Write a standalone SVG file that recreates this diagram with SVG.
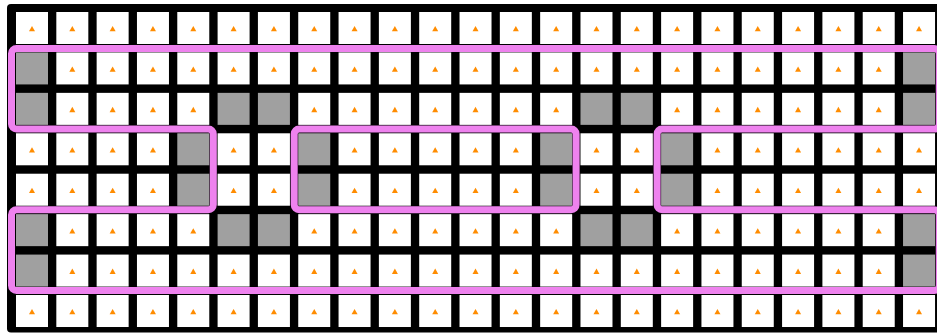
<svg xmlns="http://www.w3.org/2000/svg" width="937" height="333" viewBox="0 0 937 333">
<style>
.region{fill:none;stroke:#ee82ee;stroke-width:7;stroke-linejoin:round;}
</style>
<defs>
<g id="w"><rect width="32" height="32" fill="#ffffff"/><path d="M13 19.3 L16 14 L19 19.3 Z" fill="#ff8c00"/></g>
<g id="g"><rect width="32" height="32" fill="#a0a0a0"/></g>
</defs>
<rect id="board" x="7" y="4" width="945" height="328.5" rx="4" fill="#000000"/>
<g id="cells">
<g id="r0"><use href="#w" x="16" y="12"/><use href="#w" x="56.32" y="12"/><use href="#w" x="96.64" y="12"/><use href="#w" x="136.96" y="12"/><use href="#w" x="177.28" y="12"/><use href="#w" x="217.6" y="12"/><use href="#w" x="257.92" y="12"/><use href="#w" x="298.24" y="12"/><use href="#w" x="338.56" y="12"/><use href="#w" x="378.88" y="12"/><use href="#w" x="419.2" y="12"/><use href="#w" x="459.52" y="12"/><use href="#w" x="499.84" y="12"/><use href="#w" x="540.16" y="12"/><use href="#w" x="580.48" y="12"/><use href="#w" x="620.8" y="12"/><use href="#w" x="661.12" y="12"/><use href="#w" x="701.44" y="12"/><use href="#w" x="741.76" y="12"/><use href="#w" x="782.08" y="12"/><use href="#w" x="822.4" y="12"/><use href="#w" x="862.72" y="12"/><use href="#w" x="903.04" y="12"/></g>
<g id="r1"><use href="#g" x="16" y="52.43"/><use href="#w" x="56.32" y="52.43"/><use href="#w" x="96.64" y="52.43"/><use href="#w" x="136.96" y="52.43"/><use href="#w" x="177.28" y="52.43"/><use href="#w" x="217.6" y="52.43"/><use href="#w" x="257.92" y="52.43"/><use href="#w" x="298.24" y="52.43"/><use href="#w" x="338.56" y="52.43"/><use href="#w" x="378.88" y="52.43"/><use href="#w" x="419.2" y="52.43"/><use href="#w" x="459.52" y="52.43"/><use href="#w" x="499.84" y="52.43"/><use href="#w" x="540.16" y="52.43"/><use href="#w" x="580.48" y="52.43"/><use href="#w" x="620.8" y="52.43"/><use href="#w" x="661.12" y="52.43"/><use href="#w" x="701.44" y="52.43"/><use href="#w" x="741.76" y="52.43"/><use href="#w" x="782.08" y="52.43"/><use href="#w" x="822.4" y="52.43"/><use href="#w" x="862.72" y="52.43"/><use href="#g" x="903.04" y="52.43"/></g>
<g id="r2"><use href="#g" x="16" y="92.86"/><use href="#w" x="56.32" y="92.86"/><use href="#w" x="96.64" y="92.86"/><use href="#w" x="136.96" y="92.86"/><use href="#w" x="177.28" y="92.86"/><use href="#g" x="217.6" y="92.86"/><use href="#g" x="257.92" y="92.86"/><use href="#w" x="298.24" y="92.86"/><use href="#w" x="338.56" y="92.86"/><use href="#w" x="378.88" y="92.86"/><use href="#w" x="419.2" y="92.86"/><use href="#w" x="459.52" y="92.86"/><use href="#w" x="499.84" y="92.86"/><use href="#w" x="540.16" y="92.86"/><use href="#g" x="580.48" y="92.86"/><use href="#g" x="620.8" y="92.86"/><use href="#w" x="661.12" y="92.86"/><use href="#w" x="701.44" y="92.86"/><use href="#w" x="741.76" y="92.86"/><use href="#w" x="782.08" y="92.86"/><use href="#w" x="822.4" y="92.86"/><use href="#w" x="862.72" y="92.86"/><use href="#g" x="903.04" y="92.86"/></g>
<g id="r3"><use href="#w" x="16" y="133.29"/><use href="#w" x="56.32" y="133.29"/><use href="#w" x="96.64" y="133.29"/><use href="#w" x="136.96" y="133.29"/><use href="#g" x="177.28" y="133.29"/><use href="#w" x="217.6" y="133.29"/><use href="#w" x="257.92" y="133.29"/><use href="#g" x="298.24" y="133.29"/><use href="#w" x="338.56" y="133.29"/><use href="#w" x="378.88" y="133.29"/><use href="#w" x="419.2" y="133.29"/><use href="#w" x="459.52" y="133.29"/><use href="#w" x="499.84" y="133.29"/><use href="#g" x="540.16" y="133.29"/><use href="#w" x="580.48" y="133.29"/><use href="#w" x="620.8" y="133.29"/><use href="#g" x="661.12" y="133.29"/><use href="#w" x="701.44" y="133.29"/><use href="#w" x="741.76" y="133.29"/><use href="#w" x="782.08" y="133.29"/><use href="#w" x="822.4" y="133.29"/><use href="#w" x="862.72" y="133.29"/><use href="#w" x="903.04" y="133.29"/></g>
<g id="r4"><use href="#w" x="16" y="173.72"/><use href="#w" x="56.32" y="173.72"/><use href="#w" x="96.64" y="173.72"/><use href="#w" x="136.96" y="173.72"/><use href="#g" x="177.28" y="173.72"/><use href="#w" x="217.6" y="173.72"/><use href="#w" x="257.92" y="173.72"/><use href="#g" x="298.24" y="173.72"/><use href="#w" x="338.56" y="173.72"/><use href="#w" x="378.88" y="173.72"/><use href="#w" x="419.2" y="173.72"/><use href="#w" x="459.52" y="173.72"/><use href="#w" x="499.84" y="173.72"/><use href="#g" x="540.16" y="173.72"/><use href="#w" x="580.48" y="173.72"/><use href="#w" x="620.8" y="173.72"/><use href="#g" x="661.12" y="173.72"/><use href="#w" x="701.44" y="173.72"/><use href="#w" x="741.76" y="173.72"/><use href="#w" x="782.08" y="173.72"/><use href="#w" x="822.4" y="173.72"/><use href="#w" x="862.72" y="173.72"/><use href="#w" x="903.04" y="173.72"/></g>
<g id="r5"><use href="#g" x="16" y="214.15"/><use href="#w" x="56.32" y="214.15"/><use href="#w" x="96.64" y="214.15"/><use href="#w" x="136.96" y="214.15"/><use href="#w" x="177.28" y="214.15"/><use href="#g" x="217.6" y="214.15"/><use href="#g" x="257.92" y="214.15"/><use href="#w" x="298.24" y="214.15"/><use href="#w" x="338.56" y="214.15"/><use href="#w" x="378.88" y="214.15"/><use href="#w" x="419.2" y="214.15"/><use href="#w" x="459.52" y="214.15"/><use href="#w" x="499.84" y="214.15"/><use href="#w" x="540.16" y="214.15"/><use href="#g" x="580.48" y="214.15"/><use href="#g" x="620.8" y="214.15"/><use href="#w" x="661.12" y="214.15"/><use href="#w" x="701.44" y="214.15"/><use href="#w" x="741.76" y="214.15"/><use href="#w" x="782.08" y="214.15"/><use href="#w" x="822.4" y="214.15"/><use href="#w" x="862.72" y="214.15"/><use href="#g" x="903.04" y="214.15"/></g>
<g id="r6"><use href="#g" x="16" y="254.58"/><use href="#w" x="56.32" y="254.58"/><use href="#w" x="96.64" y="254.58"/><use href="#w" x="136.96" y="254.58"/><use href="#w" x="177.28" y="254.58"/><use href="#w" x="217.6" y="254.58"/><use href="#w" x="257.92" y="254.58"/><use href="#w" x="298.24" y="254.58"/><use href="#w" x="338.56" y="254.58"/><use href="#w" x="378.88" y="254.58"/><use href="#w" x="419.2" y="254.58"/><use href="#w" x="459.52" y="254.58"/><use href="#w" x="499.84" y="254.58"/><use href="#w" x="540.16" y="254.58"/><use href="#w" x="580.48" y="254.58"/><use href="#w" x="620.8" y="254.58"/><use href="#w" x="661.12" y="254.58"/><use href="#w" x="701.44" y="254.58"/><use href="#w" x="741.76" y="254.58"/><use href="#w" x="782.08" y="254.58"/><use href="#w" x="822.4" y="254.58"/><use href="#w" x="862.72" y="254.58"/><use href="#g" x="903.04" y="254.58"/></g>
<g id="r7"><use href="#w" x="16" y="295.01"/><use href="#w" x="56.32" y="295.01"/><use href="#w" x="96.64" y="295.01"/><use href="#w" x="136.96" y="295.01"/><use href="#w" x="177.28" y="295.01"/><use href="#w" x="217.6" y="295.01"/><use href="#w" x="257.92" y="295.01"/><use href="#w" x="298.24" y="295.01"/><use href="#w" x="338.56" y="295.01"/><use href="#w" x="378.88" y="295.01"/><use href="#w" x="419.2" y="295.01"/><use href="#w" x="459.52" y="295.01"/><use href="#w" x="499.84" y="295.01"/><use href="#w" x="540.16" y="295.01"/><use href="#w" x="580.48" y="295.01"/><use href="#w" x="620.8" y="295.01"/><use href="#w" x="661.12" y="295.01"/><use href="#w" x="701.44" y="295.01"/><use href="#w" x="741.76" y="295.01"/><use href="#w" x="782.08" y="295.01"/><use href="#w" x="822.4" y="295.01"/><use href="#w" x="862.72" y="295.01"/><use href="#w" x="903.04" y="295.01"/></g>
</g>
<g id="regions">
<path id="region-outline" class="region" d="M16.5 48.6 H934.3 A5 5 0 0 1 939.3 53.6 V124.1 A5 5 0 0 1 934.3 129.1 H662.1 A5 5 0 0 0 657.1 134.1 V204.8 A5 5 0 0 0 662.1 209.8 H934.3 A5 5 0 0 1 939.3 214.8 V285.5 A5 5 0 0 1 934.3 290.5 H16.5 A5 5 0 0 1 11.5 285.5 V214.8 A5 5 0 0 1 16.5 209.8 H208.3 A5 5 0 0 0 213.3 204.8 V134.1 A5 5 0 0 0 208.3 129.1 H16.5 A5 5 0 0 1 11.5 124.1 V53.6 A5 5 0 0 1 16.5 48.6 Z"/>
<rect id="region-hole" class="region" x="294.2" y="129.1" width="281.9" height="80.7" rx="5"/>
</g>
</svg>
